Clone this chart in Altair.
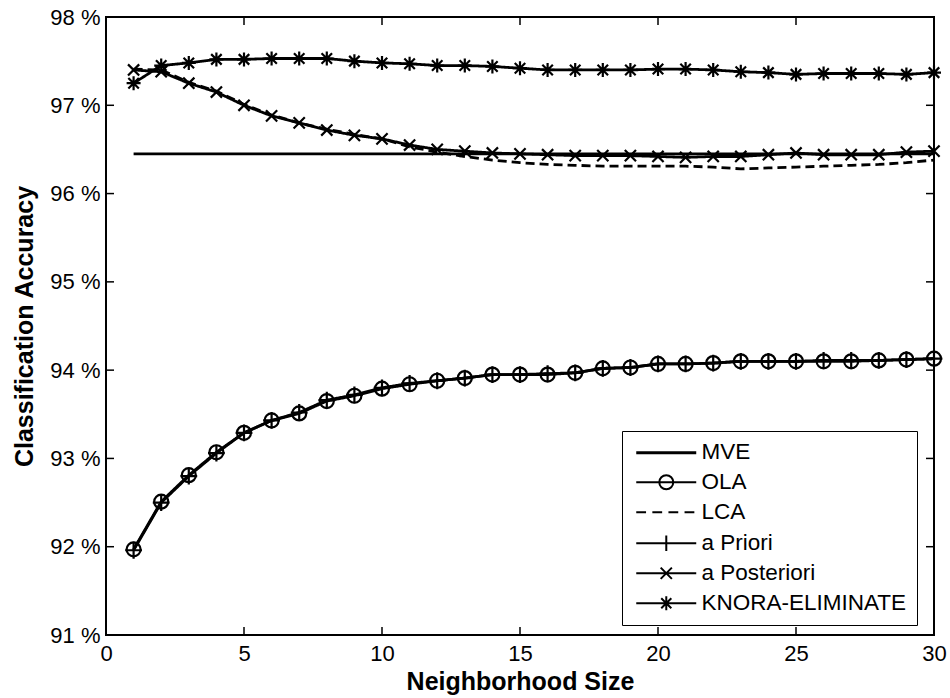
import altair as alt
import pandas as pd

# ---------------- data ----------------
neighborhood = list(range(1, 31))

mve = [96.45, 96.45, 96.45, 96.45, 96.45, 96.45, 96.45, 96.45, 96.45, 96.45,
       96.45, 96.45, 96.45, 96.45, 96.45, 96.45, 96.45, 96.45, 96.45, 96.45,
       96.45, 96.45, 96.45, 96.45, 96.45, 96.45, 96.45, 96.45, 96.45, 96.45]

ola = [91.97, 92.51, 92.81, 93.07, 93.29, 93.43, 93.51, 93.65, 93.71, 93.79,
       93.84, 93.88, 93.91, 93.95, 93.95, 93.95, 93.97, 94.02, 94.03, 94.07,
       94.07, 94.08, 94.10, 94.10, 94.10, 94.10, 94.10, 94.11, 94.12, 94.13]

apriori = [91.96, 92.50, 92.80, 93.06, 93.29, 93.43, 93.52, 93.66, 93.72, 93.80,
           93.85, 93.88, 93.91, 93.95, 93.95, 93.96, 93.97, 94.02, 94.03, 94.07,
           94.07, 94.08, 94.10, 94.10, 94.10, 94.11, 94.11, 94.11, 94.12, 94.13]

lca = [97.41, 97.40, 97.26, 97.16, 97.01, 96.89, 96.80, 96.73, 96.67, 96.62,
       96.53, 96.47, 96.42, 96.38, 96.35, 96.33, 96.32, 96.31, 96.31, 96.31,
       96.31, 96.30, 96.28, 96.29, 96.30, 96.31, 96.32, 96.33, 96.35, 96.38]

aposteriori = [97.40, 97.38, 97.25, 97.15, 97.00, 96.88, 96.80, 96.72, 96.66, 96.62,
               96.55, 96.50, 96.48, 96.46, 96.45, 96.44, 96.43, 96.43, 96.43, 96.42,
               96.41, 96.42, 96.42, 96.44, 96.46, 96.44, 96.44, 96.44, 96.47, 96.48]

knora = [97.25, 97.45, 97.48, 97.52, 97.52, 97.53, 97.53, 97.53, 97.50, 97.48,
         97.47, 97.45, 97.45, 97.44, 97.42, 97.40, 97.40, 97.40, 97.40, 97.41,
         97.41, 97.40, 97.38, 97.37, 97.35, 97.36, 97.36, 97.36, 97.35, 97.37]

series_names = ["MVE", "OLA", "LCA", "a Priori", "a Posteriori", "KNORA-ELIMINATE"]
series_values = [mve, ola, lca, apriori, aposteriori, knora]

x_ticks = [0, 5, 10, 15, 20, 25, 30]
y_ticks = [91, 92, 93, 94, 95, 96, 97, 98]

# ---------------- tables ----------------
rows = []
for name, vals in zip(series_names, series_values):
    for n, v in zip(neighborhood, vals):
        rows.append({"series": name, "n": n, "acc": v})
df = pd.DataFrame(rows)
xt = pd.DataFrame({"t": x_ticks})
yt = pd.DataFrame({"t": y_ticks})

W, H = 828, 618
FONT = "Liberation Sans"

xscale = alt.Scale(domain=[0, 30], nice=False, zero=False)
yscale = alt.Scale(domain=[91, 98], nice=False, zero=False)

xenc = alt.X("n:Q", scale=xscale,
             axis=alt.Axis(values=x_ticks, title="Neighborhood Size", grid=False,
                           ticks=False, domain=False, labelFontSize=22,
                           labelPadding=8, titleFontSize=25, titleFontWeight="bold",
                           titlePadding=5, labelFont=FONT, titleFont=FONT,
                           labelColor="black", titleColor="black",
                           labelFlush=False))
yenc = alt.Y("acc:Q", scale=yscale,
             axis=alt.Axis(values=y_ticks, title="Classification Accuracy", grid=False,
                           ticks=False, domain=False, labelFontSize=22,
                           labelPadding=6, titleFontSize=25, titleFontWeight="bold",
                           titlePadding=12, labelFont=FONT, titleFont=FONT,
                           labelColor="black", titleColor="black",
                           labelExpr="datum.value + ' %'", labelFlush=False))

dash_scale = alt.Scale(domain=series_names,
                       range=[[1, 0], [1, 0], [9, 5], [1, 0], [1, 0], [1, 0]])

lines = alt.Chart(df).mark_line(color="black", strokeWidth=2.8).encode(
    x=xenc, y=yenc,
    detail="series:N",
    strokeDash=alt.StrokeDash("series:N", scale=dash_scale, legend=None),
)

marker_names = ["OLA", "a Priori", "a Posteriori", "KNORA-ELIMINATE"]
marker_paths = [
    "circle",
    "M-1.2,0H1.2M0,-1.2V1.2",
    "M-0.8,-0.8L0.8,0.8M-0.8,0.8L0.8,-0.8",
    "M-1,0H1M0,-1V1M-0.75,-0.75L0.75,0.75M-0.75,0.75L0.75,-0.75",
]
points = alt.Chart(df).transform_filter(
    alt.FieldOneOfPredicate(field="series", oneOf=marker_names)
).mark_point(filled=False, color="black", strokeWidth=2.2, size=196, opacity=1).encode(
    x="n:Q", y="acc:Q",
    shape=alt.Shape("series:N", scale=alt.Scale(domain=marker_names, range=marker_paths),
                    legend=None),
)

# legend symbols: line segment + marker drawn in one path (units of 7 px)
L0, L1, C = -1, 7.57, 3.29
legend_paths = [
    f"M{L0},0H{L1}M{L0},0.14H{L1}",
    f"M{L0},0H{L1}M{C+1},0A1,1 0 1,1 {C-1},0A1,1 0 1,1 {C+1},0",
    f"M{L0},0H0.4M1.3,0H2.7M3.6,0H5.0M5.9,0H7.3",
    f"M{L0},0H{L1}M{C},-1.1V1.1",
    f"M{L0},0H{L1}M{C-0.8},-0.8L{C+0.8},0.8M{C-0.8},0.8L{C+0.8},-0.8",
    f"M{L0},0H{L1}M{C},-1V1M{C-0.72},-0.72L{C+0.72},0.72M{C-0.72},0.72L{C+0.72},-0.72",
]
legend_layer = alt.Chart(df).transform_calculate(lseries="datum.series").transform_filter(
    "false"
).mark_point(filled=False, color="black", size=196).encode(
    x="n:Q", y="acc:Q",
    shape=alt.Shape("lseries:N", scale=alt.Scale(domain=series_names, range=legend_paths),
                    legend=alt.Legend(title=None, orient="none", legendX=516, legendY=414,
                                      padding=10, strokeColor="black", fillColor="white",
                                      labelFontSize=22.5, labelFont=FONT, labelColor="black",
                                      symbolSize=196, symbolStrokeColor="black",
                                      symbolFillColor="transparent", symbolStrokeWidth=2,
                                      symbolOpacity=1, labelOffset=47, rowPadding=7,
                                      labelLimit=400)),
)

# inward ticks on all four sides
xt_bottom = alt.Chart(xt).mark_rule(color="black", strokeWidth=1.5).encode(
    x=alt.X("t:Q", scale=xscale), y=alt.value(H), y2=alt.value(H - 8))
xt_top = alt.Chart(xt).mark_rule(color="black", strokeWidth=1.5).encode(
    x=alt.X("t:Q", scale=xscale), y=alt.value(0), y2=alt.value(8))
yt_left = alt.Chart(yt).mark_rule(color="black", strokeWidth=1.5).encode(
    y=alt.Y("t:Q", scale=yscale), x=alt.value(0), x2=alt.value(8))
yt_right = alt.Chart(yt).mark_rule(color="black", strokeWidth=1.5).encode(
    y=alt.Y("t:Q", scale=yscale), x=alt.value(W), x2=alt.value(W - 8))

chart = alt.layer(lines, points, legend_layer, xt_bottom, xt_top, yt_left, yt_right).resolve_scale(
    shape="independent"
).resolve_legend(shape="independent").properties(
    width=W, height=H,
    autosize=alt.AutoSizeParams(type="none"),
    padding={"left": 106, "top": 17, "right": 16, "bottom": 63},
    background="white",
).configure_view(stroke="black", strokeWidth=2).configure_axis(
    labelFont=FONT, titleFont=FONT
)

chart.save("out.html", embed_options={"renderer": "svg", "actions": False})
